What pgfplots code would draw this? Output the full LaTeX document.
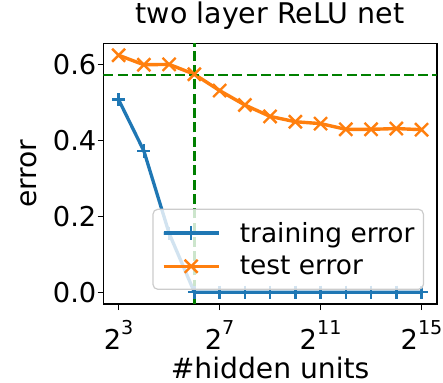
\documentclass[border=0pt]{standalone}
\usepackage{fontspec}
\setmainfont{DejaVu Sans}
\usepackage{pgfplots}
\pgfplotsset{compat=1.18}
\definecolor{tabblue}{HTML}{1F77B4}
\definecolor{taborange}{HTML}{FF7F0E}
\definecolor{mplgreen}{HTML}{008000}
\newcommand{\pw}[1]{2\raisebox{15bp}{\fontsize{19.2}{20}\selectfont #1}}
\begin{document}
\begin{tikzpicture}[font=\fontsize{27.4}{33}\selectfont]
\begin{axis}[
  name=ax,
  scale only axis,
  width=333.2bp, height=260.5bp,
  xmode=log, log basis x=2,
  xmin=5.278, xmax=49667,
  ymin=-0.031, ymax=0.655,
  xtick={8,128,2048,32768},
  xticklabels={\pw{3},\pw{7},\pw{11},\pw{15}},
  minor xtick={},
  ytick={0,0.2,0.4,0.6},
  yticklabels={0.0,0.2,0.4,0.6},
  xtick pos=left, ytick pos=left,
  tick align=outside,
  major tick length=6bp,
  every tick/.style={black, line width=1.3bp},
  axis line style={line width=1.6bp},
  xticklabel style={anchor=base, inner sep=0pt, yshift=-39bp},
  yticklabel style={anchor=east, inner sep=0pt, xshift=-1bp},
  title={two layer ReLU net},
  title style={at={(axis description cs:0.5,1)}, anchor=base, yshift=14bp, inner sep=0pt, font=\fontsize{28.6}{34}\selectfont},
  xlabel={\#hidden units},
  xlabel style={at={(axis description cs:0.5,0)}, anchor=base, yshift=-74bp, inner sep=0pt, font=\fontsize{28.3}{34}\selectfont},
  ylabel={error},
  ylabel style={at={(axis description cs:-0.1996,0.5)}, anchor=south, inner sep=0pt, font=\fontsize{28.3}{34}\selectfont},
  legend style={at={(0.962,0.054)}, anchor=south east, font=\fontsize{26.5}{31}\selectfont,
    draw=black!20, line width=1.2bp, rounded corners=5bp, fill=white, fill opacity=0.8, text opacity=1,
    inner xsep=9bp, inner ysep=13bp, row sep=12.5bp, column sep=19.5bp,
    nodes={inner sep=0pt}},
  legend cell align=left,
  legend image code/.code={\draw[mark repeat=2,mark phase=2] plot coordinates {(0bp,0bp) (27.5bp,0bp) (55bp,0bp)};},
]
\addplot[tabblue, line width=3.3bp, mark=+, mark size=6.6bp, mark options={line width=2.4bp}] coordinates {
(8,0.507) (16,0.372) (32,0.155) (64,0) (128,0) (256,0) (512,0) (1024,0) (2048,0) (4096,0) (8192,0) (16384,0) (32768,0)};
\addlegendentry{training error}
\addplot[taborange, line width=3.4bp, mark=x, mark size=9.2bp, mark options={line width=2.4bp}] coordinates {
(8,0.624) (16,0.599) (32,0.600) (64,0.574) (128,0.531) (256,0.493) (512,0.463) (1024,0.449) (2048,0.444) (4096,0.429) (8192,0.429) (16384,0.431) (32768,0.428)};
\addlegendentry{test error}
\addplot[forget plot, mplgreen, line width=2.6bp, dash pattern=on 10bp off 4.3bp] coordinates {(64,-0.031) (64,0.655)};
\addplot[forget plot, mplgreen, line width=2.6bp, dash pattern=on 10bp off 4.3bp] coordinates {(5.278,0.5725) (49667,0.5725)};
\end{axis}
\pgfresetboundingbox
\path ([shift={(-103.5bp,-79bp)}]ax.south west) rectangle ([shift={(6.3bp,43.5bp)}]ax.north east);
\end{tikzpicture}
\end{document}
